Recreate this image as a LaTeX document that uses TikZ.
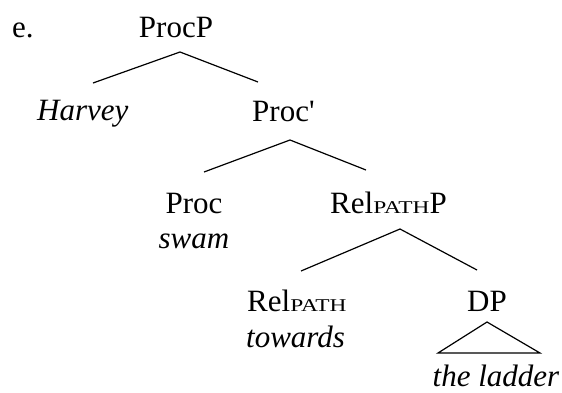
\documentclass[tikz,border=0pt]{standalone}
\usepackage{fontspec}
\setmainfont{Liberation Serif}
% same face without the TeX quote mapping, for a straight apostrophe
\newfontfamily\straightfont{Liberation Serif}
\newcommand{\pathsub}{\raisebox{-0.5pt}{\scalebox{1.3}[1]{\fontsize{18}{18}\selectfont PATH}}}
\begin{document}
\begin{tikzpicture}[x=1pt,y=-1pt,
  lbl/.style={inner sep=0pt,font=\fontsize{31}{36}\selectfont},
  wrd/.style={lbl,font=\fontsize{31}{36}\selectfont\itshape},
  branch/.style={line width=1.2pt},
  roof/.style={line width=1.2pt,line join=miter}]
\useasboundingbox (0,0) rectangle (562,392);

% labels
\node[lbl,anchor=base west] (ex) at (12,37) {e.};
\node[lbl,anchor=base] (procp) at (176,37) {ProcP};
\node[wrd,anchor=base west] (harvey) at (37,120) {Harvey};
\node[lbl,anchor=base west] (procbar) at (252,121) {Proc{\straightfont '}};
\node[lbl,anchor=base] (proc) at (194,213) {Proc};
\node[wrd,anchor=base] (swam) at (194,248) {swam};
\node[lbl,anchor=base west] (relp) at (330,213) {Rel\pathsub P};
\node[lbl,anchor=base west] (rel) at (247,311) {Rel\pathsub};
\node[wrd,anchor=base west] (towards) at (246,347) {towards};
\node[lbl,anchor=base] (dp) at (487,311) {DP};
\node[wrd,anchor=base] (ladder) at (496,386) {the ladder};

% branch end points
\coordinate (a1) at (180,52);
\coordinate (a1l) at (93,83);
\coordinate (a1r) at (258,82);
\coordinate (a2) at (290,140);
\coordinate (a2l) at (204,172);
\coordinate (a2r) at (366,170);
\coordinate (a3) at (400,229);
\coordinate (a3l) at (301,271);
\coordinate (a3r) at (477,270);
\coordinate (t1) at (487,322);
\coordinate (t2) at (438,353);
\coordinate (t3) at (540,353);

\draw[branch] (a1l) -- (a1) -- (a1r);
\draw[branch] (a2l) -- (a2) -- (a2r);
\draw[branch] (a3l) -- (a3) -- (a3r);
\draw[roof] (t1) -- (t2) -- (t3) -- cycle;
\end{tikzpicture}
\end{document}
